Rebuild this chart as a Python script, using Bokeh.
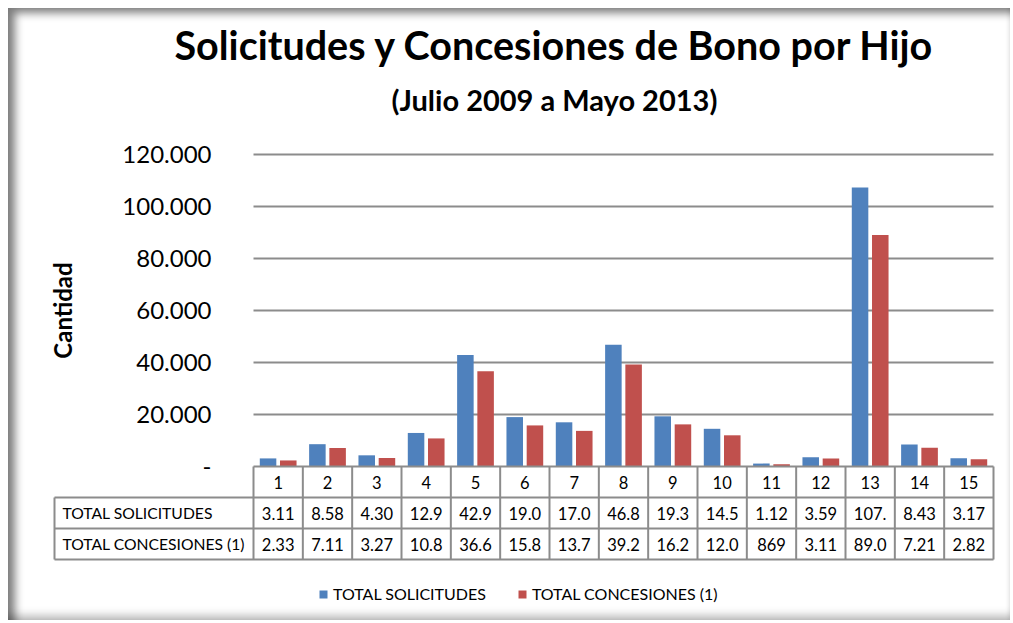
import math
from bokeh.plotting import figure
from bokeh.models import (Range1d, Title, Legend, LegendItem, ColumnDataSource)
from bokeh.transform import dodge
from bokeh.core.properties import value
from bokeh.embed import file_html
from bokeh.resources import INLINE

# ---------------- data ----------------
categories = list(range(1, 16))
series_names = ["TOTAL SOLICITUDES", "TOTAL CONCESIONES (1)"]
solicitudes = [3110, 8580, 4300, 12900, 42900, 19000, 17000, 46800, 19300,
               14500, 1120, 3590, 107300, 8430, 3170]
concesiones = [2330, 7110, 3270, 10800, 36600, 15800, 13700, 39200, 16200,
               12000, 869, 3110, 89000, 7210, 2820]
y_ticks = [0, 20000, 40000, 60000, 80000, 100000, 120000]
y_tick_labels = ["-", "20.000", "40.000", "60.000", "80.000", "100.000", "120.000"]
title_text = "Solicitudes y Concesiones de Bono por Hijo"
subtitle_text = "(Julio 2009 a Mayo 2013)"
y_label = "Cantidad"

BLUE = "#4F81BD"
RED = "#C0504D"
GRID = "#8c8c8c"
FONT = "Lato"


def cell_text(v):
    # the sheet shows each value cut to the column width (4 characters)
    return f"{v:,}".replace(",", ".")[:4]


# ---------------- geometry (page pixels) ----------------
W, H = 1002, 612
ORIGIN_X, ORIGIN_Y = 8, 8
FRAME_L, FRAME_R = 40, 995          # page x of frame
FRAME_T, FRAME_B = 140, 610         # page y of frame
CAT_L, CAT_R = 253, 993             # plot area / category columns
ZERO_Y = 466                        # page y of value 0
COLW = (CAT_R - CAT_L) / 15.0       # px per category
PXU = 312 / 120000.0                # px per value unit
ROW = 31 / PXU                      # table row height in value units


def xd(px):   # page x -> data x
    return 0.5 + (px - CAT_L) / COLW


def yd(py):   # page y -> data y
    return (ZERO_Y - py) / PXU


p = figure(width=W, height=H, output_backend="svg", toolbar_location=None,
           x_range=Range1d(xd(FRAME_L), xd(FRAME_R)),
           y_range=Range1d(yd(FRAME_B), yd(FRAME_T)),
           x_axis_location=None, y_axis_location=None,
           min_border_left=FRAME_L - ORIGIN_X,
           min_border_right=ORIGIN_X + W - FRAME_R,
           min_border_top=FRAME_T - ORIGIN_Y,
           min_border_bottom=ORIGIN_Y + H - FRAME_B)
p.margin = (ORIGIN_Y, 0, 0, ORIGIN_X)
p.grid.visible = False
p.outline_line_color = None
p.background_fill_color = None
p.border_fill_color = None

# gridlines over the plot area
gy = y_ticks[1:]
p.segment(x0=[0.5] * len(gy), x1=[15.5] * len(gy), y0=gy, y1=gy,
          line_color=GRID, line_width=2)

# bars
src = ColumnDataSource(dict(cat=categories, sol=solicitudes, con=concesiones))
r1 = p.vbar(x=dodge("cat", -0.205, range=p.x_range), top="sol", width=0.335,
            source=src, fill_color=BLUE, line_color=None)
r2 = p.vbar(x=dodge("cat", 0.205, range=p.x_range), top="con", width=0.335,
            source=src, fill_color=RED, line_color=None)

# y tick labels and axis title
p.text(x=[xd(211)] * len(y_ticks), y=y_ticks, text=y_tick_labels,
       text_align="right", text_baseline="middle",
       text_font=value(FONT), text_font_size="24px", text_color="#000000")
p.text(x=[xd(62)], y=[yd(310)], text=[y_label], angle=math.pi / 2,
       text_align="center", text_baseline="middle",
       text_font=value(FONT), text_font_size="24px", text_font_style="bold",
       text_color="#000000")

# data table
x_left = xd(54)
hx0 = [0.5, x_left, x_left, x_left]
hy = [0, -ROW, -2 * ROW, -3 * ROW]
p.segment(x0=hx0, x1=[15.5] * 4, y0=hy, y1=hy, line_color=GRID, line_width=2)
vx = [c - 0.5 for c in categories] + [15.5, x_left]
vy1 = [-3 * ROW] * 17
vy0 = [0] * 16 + [-ROW]
p.segment(x0=vx, x1=vx, y0=vy0, y1=vy1, line_color=GRID, line_width=2)

p.text(x=categories, y=[-0.5 * ROW] * 15, text=[str(c) for c in categories],
       text_align="center", text_baseline="middle",
       text_font=value(FONT), text_font_size="16.5px", text_color="#000000")
p.text(x=categories, y=[-1.5 * ROW] * 15, text=[cell_text(v) for v in solicitudes],
       text_align="center", text_baseline="middle",
       text_font=value(FONT), text_font_size="16.5px", text_color="#000000")
p.text(x=categories, y=[-2.5 * ROW] * 15, text=[cell_text(v) for v in concesiones],
       text_align="center", text_baseline="middle",
       text_font=value(FONT), text_font_size="16.5px", text_color="#000000")
p.text(x=[xd(62)] * 2, y=[-1.5 * ROW, -2.5 * ROW], text=series_names,
       text_align="left", text_baseline="middle",
       text_font=value(FONT), text_font_size="15.7px", text_color="#000000")

# titles
p.add_layout(Title(text=subtitle_text, align="left", offset=351,
                   text_font=FONT, text_font_size="29px",
                   text_font_style="bold", text_color="#000000",
                   standoff=48), "above")
p.add_layout(Title(text=title_text, align="left", offset=134,
                   text_font=FONT, text_font_size="39.5px",
                   text_font_style="bold", text_color="#000000",
                   standoff=-25), "above")

# legend, placed inside the frame (px from frame bottom-left)
legend = Legend(items=[LegendItem(label=series_names[0], renderers=[r1]),
                       LegendItem(label=series_names[1], renderers=[r2])],
                orientation="horizontal",
                location=(318 - FRAME_L, FRAME_B - 603),
                glyph_width=10, glyph_height=10, label_standoff=5,
                spacing=31, padding=0, margin=0,
                label_text_font=FONT, label_text_font_size="16px",
                label_text_color="#000000",
                border_line_color=None, background_fill_alpha=0)
p.add_layout(legend, "center")

p.styles = {
    "background-color": "white",
    "box-shadow": "inset 10px 8px 9px -3px rgba(0,0,0,0.5), "
                  "inset 0px -10px 10px -6px rgba(0,0,0,0.3), "
                  "inset -3px 0px 4px -2px rgba(0,0,0,0.1)",
}

open("out.html", "w").write(file_html(p, INLINE))
